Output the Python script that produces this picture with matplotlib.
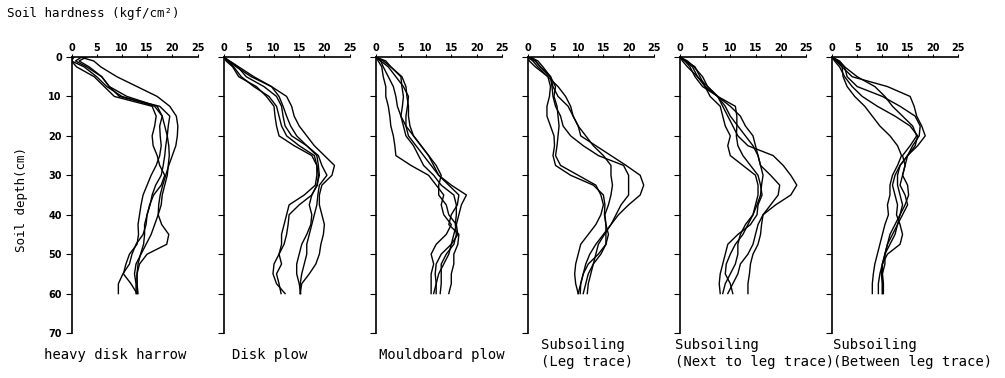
import matplotlib
matplotlib.use("Agg")
import matplotlib.pyplot as plt

# depth grid (cm) shared by every curve
depth = [0, 1, 2.5, 5, 7.5, 10, 12.5, 15, 17.5, 20, 22.5, 25, 27.5, 30,
         32.5, 35, 37.5, 40, 42.5, 45, 47.5, 50, 52.5, 55, 57.5, 60]

# soil hardness (kgf/cm2), panel by panel
harrow = [
    [1.7, 4.4, 5.8, 9, 13, 17, 19.5, 20.8, 21.1, 21, 20.7, 20, 19.3, 18.7, 18.1, 17.6, 17.3, 17.2, 17.9, 19.3, 18.9, 15, 13.5, 13, 13, 13.2],
    [0, 0, 1, 4.5, 6.5, 8.5, 16, 16.8, 16.5, 16, 16.2, 17, 17.5, 18.5, 17.8, 16.3, 15.5, 15, 14.8, 14.2, 12.8, 12, 11.5, 10.2, 9.3, 9.3],
    [2, 0.8, 3, 6, 7.5, 9.5, 17.5, 19.5, 19.2, 19, 18.7, 18.5, 18.2, 17.8, 16.7, 16, 15.6, 15, 14.5, 14.5, 14.3, 13.7, 13.2, 13, 13, 13],
    [3, 1.5, 3.5, 6, 7.5, 11, 17, 18, 17.5, 17.6, 17.8, 17.5, 16.8, 15.8, 15, 14.2, 13.8, 13.5, 13.2, 13.3, 13, 11.5, 10.8, 10.3, 11.8, 13],
    [0.5, 0, 2.5, 5, 7, 10, 16.5, 18, 18.5, 19, 19.3, 19.4, 19.2, 19, 18.5, 18, 17.8, 17.2, 16.5, 15.8, 14.8, 13.8, 12.8, 12.5, 12.8, 12.8],
]
disk_plow = [
    [0, 1, 2.5, 5.5, 9.5, 12.5, 13.5, 14, 15, 16.5, 18, 20, 22, 21.5, 19.5, 19, 19, 19.5, 20, 19.8, 19.3, 19, 18.3, 17, 15.5, 15.2],
    [0, 0.8, 2, 3.5, 6, 9, 10.5, 11, 11.5, 12.5, 15, 18, 18.5, 18.5, 18.2, 16, 13, 12.5, 12, 11.5, 11.5, 11, 11.5, 10.5, 11, 11.4],
    [0, 1, 2.8, 4.5, 8, 10.5, 11.5, 11.8, 12.2, 13.5, 16.5, 18.5, 18.8, 19, 18.5, 17.5, 17, 17.5, 17.3, 16.5, 15.5, 15, 14.5, 14.5, 15, 15.3],
    [0, 0.5, 1.8, 3, 6.5, 8.5, 10, 10.2, 10.5, 11, 14, 17.5, 18.5, 18.8, 18.6, 17.5, 15, 13, 12.8, 12.5, 12, 11, 10, 9.8, 10.5, 12.2],
    [0, 1.2, 3, 6, 9.5, 11, 11.8, 12.5, 13.3, 14.5, 16.5, 18.8, 19.5, 20.5, 19, 18.7, 18.5, 18, 17.5, 17, 16.5, 16.5, 16, 15.5, 15.2, 15.2],
]
mouldboard = [
    [0, 1, 2.5, 4, 5.5, 6.5, 6.3, 6, 6, 6.5, 8, 9.5, 11, 12.5, 15, 18, 17, 16.5, 16, 15.5, 15, 14.5, 13.5, 12.5, 12, 11.5],
    [0, 0.5, 1.2, 1.5, 2, 2, 2.5, 2.8, 3, 3.5, 3.8, 4, 7, 10.5, 12, 13.5, 13, 13.5, 15, 14, 12, 11, 11.5, 11, 11, 11],
    [0, 1.5, 3, 5, 5.2, 5.5, 5.3, 5, 5.5, 6, 7.5, 8.5, 9.5, 11.5, 13, 15.5, 16, 16, 15.8, 16, 15.5, 14, 13, 13, 13, 12.8],
    [0, 2, 3, 5.2, 6, 6.2, 6.5, 6.5, 6.8, 7.5, 9, 10.5, 11.5, 12.5, 14.5, 16.5, 16.2, 15, 14.5, 16.5, 16.3, 15.5, 15.5, 15, 15, 14.5],
    [0, 1, 1.5, 2.5, 3.5, 4, 4.3, 5, 6, 7.5, 9, 10.5, 12, 13, 12.5, 12.5, 14, 14.5, 16, 16.3, 15, 13, 12, 11.8, 12, 12],
]
sub_leg = [
    [0.5, 2, 3, 4.5, 5, 6, 8, 9, 10, 10.5, 13.5, 16.5, 19.5, 22.3, 23, 22.3, 20, 18, 16.5, 15, 13.5, 12.3, 11.5, 11, 10.5, 10.4],
    [0, 1.5, 2.5, 4.5, 4.8, 5, 5.5, 6.5, 7, 8.5, 11, 14, 19, 20, 20, 20, 18.5, 17.5, 16.5, 15.2, 14, 13.5, 13, 12.5, 12, 11.8],
    [0, 1, 2, 4, 4.5, 4.3, 3.8, 3.8, 4.5, 5.2, 5.3, 5, 5.5, 8.5, 13, 15, 15.3, 15.2, 15.5, 15.5, 15.5, 14, 12, 11, 10.5, 10],
    [0, 1.5, 2.5, 4.5, 5.5, 5.2, 5.8, 6, 6.2, 6, 5.8, 5.5, 6.5, 10, 13.5, 14.5, 15, 14.5, 13.5, 12, 10.5, 10, 9.5, 9.3, 9.5, 10],
    [0, 0.3, 1.5, 4, 6, 7.5, 8.5, 9, 10, 11.5, 13, 15, 16.5, 16.5, 16.8, 16.5, 16, 15.3, 15.5, 16, 15.5, 14.5, 13, 12, 11.5, 11],
]
sub_next = [
    [0, 1, 2.5, 3.5, 5.5, 7.5, 8.5, 9.5, 10.5, 11.5, 13.5, 18.5, 20.5, 22, 23.2, 22, 19, 16.5, 15.5, 15, 14.5, 13.5, 12, 11.5, 10.5, 9.5],
    [0, 1.5, 2.8, 4.5, 5.5, 7.5, 9, 10, 11.5, 13, 14.5, 15.5, 16, 18, 19.8, 19.5, 18, 16.5, 16.2, 16, 15.5, 14.5, 14, 13.8, 13.5, 13.5],
    [0, 1, 2, 3, 4.5, 7.5, 11, 11.3, 11.3, 11.2, 11.5, 12.5, 14, 15.5, 16, 16.3, 15.5, 15.3, 14, 11.5, 9.5, 9, 8.5, 8, 7.8, 8],
    [0, 1.2, 3, 4, 5, 6, 8, 8.5, 9, 10, 9.5, 10, 12.5, 15, 15.5, 15.5, 15, 14.5, 13, 12, 11.5, 11.5, 11, 10, 9, 8.5],
    [0, 0.5, 1.5, 3.5, 5, 7.5, 10, 12, 13, 14.5, 15, 15.5, 16, 16.5, 16.2, 16, 15.3, 14.5, 13.5, 12.5, 11, 10, 9.2, 9, 10, 10.5],
]
sub_between = [
    [0, 1, 2, 4, 11, 15.5, 16.3, 16.8, 17.8, 18.5, 17, 15, 13.5, 13, 13, 13.5, 14, 13.5, 12.5, 11.5, 11, 10.5, 10, 10, 10.2, 10.2],
    [0, 1.5, 2.5, 3, 5, 10, 13.5, 16.5, 17.5, 17.3, 16, 15, 14.5, 14, 15, 15.2, 14.5, 13.5, 13, 12.5, 11.5, 10.5, 10, 9.5, 9.2, 9.2],
    [0, 0.5, 1.5, 2.5, 4, 6, 9, 12.5, 15.5, 17, 16.5, 15, 13.5, 12.5, 12, 12.5, 13, 12.8, 13.5, 14, 13.5, 11, 10, 9.8, 10, 10],
    [0, 0.8, 2, 2.2, 3, 4.5, 6.5, 8, 9.5, 11.5, 13, 13.8, 13, 12, 11.5, 11.5, 11, 11.2, 10.5, 10, 9.5, 9, 8.5, 8.2, 8, 8],
    [0, 1.2, 2.5, 5, 8.5, 10.5, 12, 14, 16, 16.8, 15.5, 14, 14.5, 14, 13.5, 14.5, 15, 14, 13, 12, 11, 10.5, 10.5, 10, 10, 10],
]

panels = [harrow, disk_plow, mouldboard, sub_leg, sub_next, sub_between]
names = ["heavy disk harrow", "Disk plow", "Mouldboard plow",
         "Subsoiling\n(Leg trace)", "Subsoiling\n(Next to leg trace)",
         "Subsoiling\n(Between leg trace)"]
name_dx = [-28, 8, 3, 13, -5, 1]   # label offset from axis, px

W, H = 1005, 378
fig = plt.figure(figsize=(W / 100, H / 100), dpi=100)
mono = "DejaVu Sans Mono"

for i, curves in enumerate(panels):
    left = 71.5 + i * 152.1
    ax = fig.add_axes([left / W, (H - 333) / H, 126 / W, 276 / H])
    for xs in curves:
        ax.plot(xs, depth, color="black", lw=1.0)
    ax.set_xlim(0, 25)
    ax.set_ylim(70, 0)
    ax.spines["right"].set_visible(False)
    ax.spines["bottom"].set_visible(False)
    ax.spines["top"].set_linewidth(1.2)
    ax.spines["left"].set_linewidth(1.2)
    ax.xaxis.tick_top()
    ax.set_xticks(range(0, 26, 5))
    ax.set_yticks(range(0, 71, 10))
    ax.tick_params(axis="x", direction="out", length=2, width=0.8, pad=1,
                   labelsize=7)
    ax.tick_params(axis="y", direction="out", length=4, width=0.8, pad=3,
                   labelsize=7)
    for lab in ax.get_xticklabels() + ax.get_yticklabels():
        lab.set_fontweight("bold")
    if i > 0:
        ax.set_yticklabels([])
    lab_y = 355 if "\n" not in names[i] else 353.5
    fig.text((left + name_dx[i]) / W, 1 - lab_y / H, names[i],
             family=mono, fontsize=10, va="center", ha="left",
             linespacing=1.2)

fig.text(7 / W, 1 - 14 / H, "Soil hardness (kgf/cm²)", family=mono,
         fontsize=9, va="center", ha="left")
fig.text(22 / W, 1 - 199 / H, "Soil depth(cm)", family=mono, fontsize=9,
         rotation=90, va="center", ha="center")

fig.savefig("out.png", dpi=100)
